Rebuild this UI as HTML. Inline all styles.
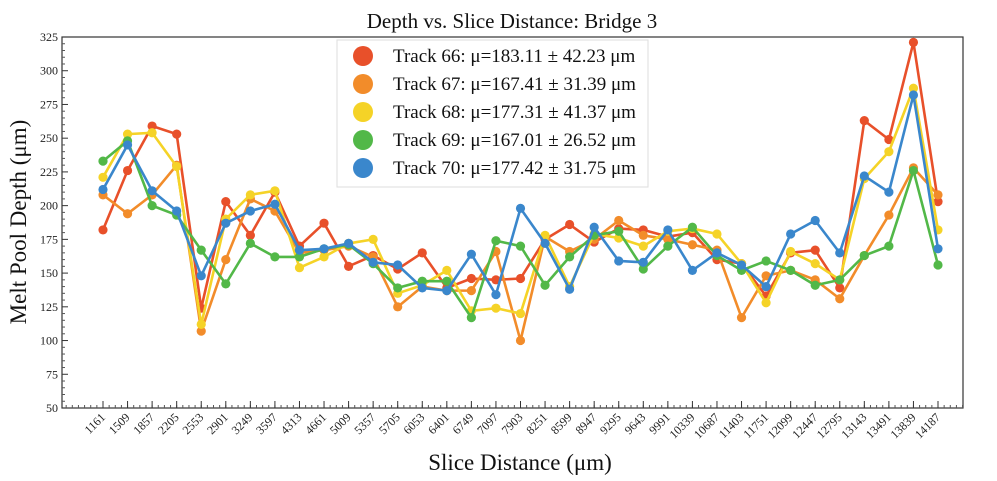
<!DOCTYPE html>
<html><head><meta charset="utf-8"><style>
body{margin:0;background:#fff;}
svg{display:block;font-family:"Liberation Serif",serif;}
</style></head><body>
<svg id="c" width="997" height="481" viewBox="0 0 997 481"></svg>
<script>
const categories=["1161","1509","1857","2205","2553","2901","3249","3597","4313","4661","5009","5357","5705","6053","6401","6749","7097","7903","8251","8599","8947","9295","9643","9991","10339","10687","11403","11751","12099","12447","12795","13143","13491","13839","14187"];
const yTicks=[50,75,100,125,150,175,200,225,250,275,300,325];
const track66=[182,226,259,253,124,203,178,210,170,187,155,163,153,165,139,146,145,146,175,186,173,183,182,177,180,160,157,133,165,167,139,263,249,321,203];
const track67=[208,194,208,230,107,160,205,196,165,167,170,162,125,140,137,137,166,100,177,166,175,189,178,175,171,167,117,148,152,145,131,163,193,228,208];
const track68=[221,253,254,229,112,190,208,211,154,162,172,175,135,141,152,122,124,120,178,140,179,176,170,181,183,179,157,128,166,157,145,220,240,287,182];
const track69=[233,248,200,193,167,142,172,162,162,168,171,157,139,144,144,117,174,170,141,162,178,181,153,170,184,163,152,159,152,141,145,163,170,226,156];
const track70=[212,245,211,196,148,187,196,201,167,168,172,158,156,139,137,164,134,198,172,138,184,159,158,182,152,165,156,140,179,189,165,222,210,282,168];
const legendLabels=["Track 66: μ=183.11 ± 42.23 μm","Track 67: μ=167.41 ± 31.39 μm","Track 68: μ=177.31 ± 41.37 μm","Track 69: μ=167.01 ± 26.52 μm","Track 70: μ=177.42 ± 31.75 μm"];
const series=[track66,track67,track68,track69,track70];
const colors=["#e8502a","#f28c2a","#f5d327","#52b848","#3a87cc"];
const ns="http://www.w3.org/2000/svg";
const svg=document.getElementById('c');
const L=62,R=963,T=37,B=408;
const X0=103,DX=(938-103)/(categories.length-1);
const x=i=>X0+i*DX;
const y=v=>B-(v-50)*(B-T)/275;
function mk(t,a,p){const e=document.createElementNS(ns,t);for(const k in a)e.setAttribute(k,a[k]);(p||svg).appendChild(e);return e;}
let e;
e=mk('rect',{x:L,y:T,width:R-L,height:B-T,fill:'none',stroke:'#333','stroke-width':1.2});


// y ticks
yTicks.forEach(v=>{
 let t=mk('line',{x1:L,x2:L+6,y1:y(v),y2:y(v),stroke:'#333'});
 
 
 let l=mk('text',{x:L-4,y:y(v)+4,'text-anchor':'end','font-size':12,fill:'#222'});
 l.textContent=v;
 
 
});
for(let v=50;v<=325;v+=5){if(v%25)mk('line',{x1:L,x2:L+3,y1:y(v),y2:y(v),stroke:'#555'});}
// x ticks
for(let i=-1.5;i<=categories.length+0.5;i+=0.25){
 const xx=x(i);if(xx<L||xx>R)continue;
 mk('line',{x1:xx,x2:xx,y1:B,y2:B-3,stroke:'#555'});
}
categories.forEach((c,i)=>{
 let t=mk('line',{x1:x(i),x2:x(i),y1:B,y2:B-7,stroke:'#333'});
 
 
 let l=mk('text',{x:x(i)+3,y:B+10,'text-anchor':'end','font-size':12,fill:'#222',transform:`rotate(-45 ${x(i)+3} ${B+10})`});
 l.textContent=c;
 
 
});
// series
series.forEach((s,k)=>{
 const g=mk('g',{});
 
 
 let p=mk('polyline',{points:s.map((v,i)=>x(i)+','+y(v)).join(' '),fill:'none',stroke:colors[k],'stroke-width':2.6,'stroke-linejoin':'round'},g);
 
 
 s.forEach((v,i)=>{
  let c=mk('circle',{cx:x(i),cy:y(v),r:4.6,fill:colors[k]},g);
  
  
 });
});
// legend
const lg=mk('g',{});


mk('rect',{x:337,y:40,width:311,height:147,fill:'rgba(255,255,255,0.85)',stroke:'#ddd'},lg);
legendLabels.forEach((t,k)=>{
 const yy=56+k*28;
 let c=mk('circle',{cx:363,cy:yy,r:10,fill:colors[k]},lg);
 
 
 let l=mk('text',{x:393,y:yy+6,'font-size':19,fill:'#111'},lg);
 l.textContent=t;
 
 
});
e=mk('text',{x:512,y:28,'text-anchor':'middle','font-size':21,fill:'#111'});
e.textContent="Depth vs. Slice Distance: Bridge 3";


e=mk('text',{x:520,y:470,'text-anchor':'middle','font-size':23,fill:'#111'});
e.textContent="Slice Distance (μm)";


e=mk('text',{x:26,y:222,'text-anchor':'middle','font-size':23,fill:'#111',transform:'rotate(-90 26 222)'});
e.textContent="Melt Pool Depth (μm)";


</script>
</body></html>
